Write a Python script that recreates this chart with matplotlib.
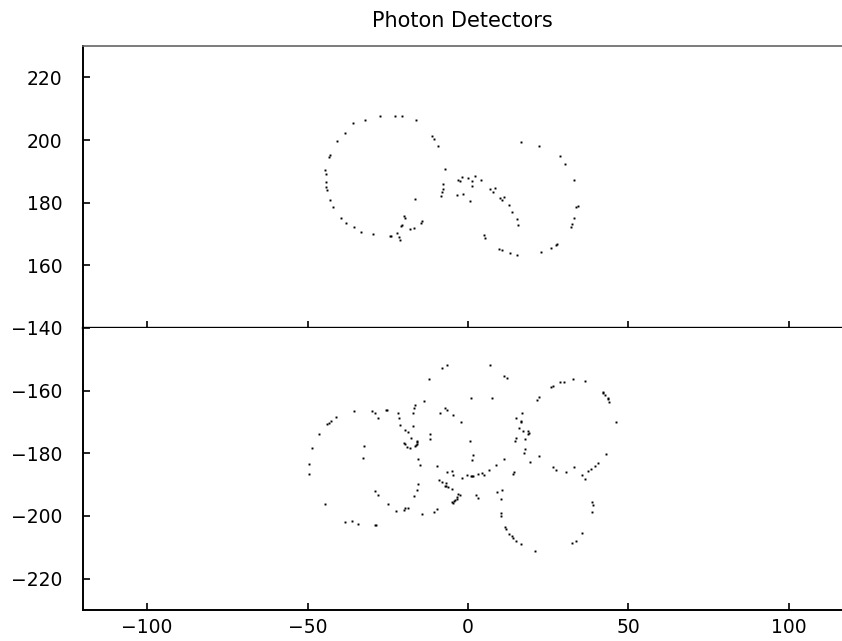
import matplotlib
matplotlib.use("Agg")
import matplotlib.pyplot as plt

# upper detector hits (x, y)
top_x = [
    -27.4, -22.9, -20.5, -16.2, -32.1, -35.8, -38.3, -40.8, -42.9, -43.3,
    -11.1, -10.5, -9.4, -44.6, -44.3, -44.4, -44.2, -43.9, -43.1, -42.1,
    -7.3, -7.8, -7.7, -8.0, -8.3, -16.4, -39.6, -37.9, -35.4, -33.5,
    -29.6, -19.9, -19.6, -20.7, -20.8, -14.4, -14.7, -16.8, -18.0, -22.0,
    -24.4, -23.9, -21.5, -21.3, -1.9, -3.1, -2.4, 0.0, 2.2, 1.3,
    1.2, -1.6, -3.4, 0.6, 16.4, 22.0, 28.6, 30.2, 33.0, 34.3,
    33.8, 33.2, 32.5, 32.1, 27.7, 27.4, 25.8, 22.9, 15.4, 13.0,
    10.6, 9.7, 5.3, 5.0, 15.5, 15.2, 13.8, 12.8, 11.2, 10.7,
    10.0, 8.4, 7.9, 6.8, 4.0,
]
top_y = [
    207.8, 207.6, 207.8, 206.4, 206.3, 205.4, 202.3, 199.6, 195.3, 194.7,
    201.2, 200.4, 198.0, 190.4, 189.1, 186.6, 185.0, 184.0, 180.8, 178.7,
    190.7, 185.9, 184.3, 183.5, 182.2, 181.2, 175.0, 173.5, 172.1, 170.7,
    170.0, 175.8, 175.1, 173.0, 172.5, 174.0, 173.5, 172.0, 171.6, 170.2,
    169.4, 169.4, 168.9, 168.1, 188.2, 187.3, 187.0, 187.9, 188.6, 187.0,
    185.3, 182.8, 182.5, 180.6, 199.3, 198.1, 195.0, 192.4, 187.3, 179.0,
    178.5, 175.0, 173.3, 172.3, 166.9, 166.5, 165.5, 164.2, 163.2, 164.0,
    165.0, 165.3, 168.8, 169.7, 173.0, 174.8, 177.1, 179.2, 181.8, 180.9,
    181.5, 184.8, 183.4, 184.4, 187.1,
]

# lower detector hits (x, y)
bot_x = [
    -6.4, -8.0, -12.1, -13.6, 0.8, -35.4, -29.8, -28.9, -28.1, -25.5,
    -25.1, -21.7, -21.5, -16.4, -16.8, -17.0, -7.1, -6.6, -8.8, -4.6,
    -2.2, -41.0, -42.6, -43.4, -43.8, -46.4, -48.6, -21.2, -19.5, -18.8,
    -17.2, -17.7, -19.9, -19.6, -18.9, -18.0, -16.4, -16.2, -15.9, -15.8,
    -15.9, -11.7, -11.9, 0.6, -32.5, -32.6, -15.6,
    -49.5, -49.5, -15.0, -9.8, -6.6, -4.9, -4.7, -1.8, -0.3, -9.1,
    -8.1, -6.9, -7.3, -7.0, -6.3, -5.1, -15.6, -15.9, -16.7, -29.1,
    -28.1, -24.8, -22.5, -20.0, -19.7, -18.8, -14.2, -10.5, -9.7, -3.1,
    -2.6, -3.5, -3.9, -3.4, -4.4, -5.0, -4.7, -44.6, -38.3, -36.3,
    -34.3, -29.1, -28.7,
    6.9, 11.2, 12.1, 25.8, 26.4, 28.7, 30.0, 32.8, 36.5, 42.0,
    42.1, 42.7, 43.6, 43.7, 44.1, 46.1, 7.4, 22.1, 21.6, 16.7,
    15.0, 16.6, 16.4, 15.9, 17.1, 18.7, 19.0, 18.7, 17.7, 14.9,
    14.7, 17.8, 17.5, 22.1, 1.5, 42.9, 11.2, 1.3,
    19.4, 8.6, 6.6, 4.3, 5.0, 3.1, 1.7, 1.3, 0.8, 14.2,
    14.0, 26.5, 27.4, 30.7, 33.0, 35.7, 36.5, 37.5, 38.3, 39.5,
    40.5, 9.0, 10.7, 10.2, 2.6, 3.2, 38.7, 38.9, 38.8, 10.3,
    10.3, 11.6, 12.0, 12.9, 13.8, 14.0, 15.0, 16.6, 20.8, 35.6,
    33.7, 32.4,
]
bot_y = [
    -151.9, -152.9, -156.3, -163.2, -162.2, -166.5, -166.5, -167.2, -168.6, -166.3,
    -166.2, -167.2, -168.7, -164.6, -165.4, -167.1, -165.5, -166.1, -167.1, -167.8,
    -169.9, -168.4, -169.7, -170.3, -170.6, -173.8, -178.4, -171.1, -172.6, -173.2,
    -171.3, -175.0, -176.7, -177.0, -178.1, -178.2, -177.8, -177.4, -176.0, -176.5,
    -177.0, -173.7, -175.5, -176.2, -177.7, -181.4, -181.9,
    -183.5, -186.6, -183.6, -184.0, -185.9, -185.5, -187.0, -188.0, -186.9, -188.5,
    -189.2, -189.5, -190.3, -190.5, -190.8, -191.4, -189.8, -191.6, -193.5, -192.1,
    -193.3, -196.2, -198.4, -198.0, -197.4, -197.4, -199.5, -198.6, -197.9, -193.1,
    -193.4, -194.0, -194.8, -194.7, -195.1, -195.6, -195.8, -196.1, -201.8, -201.6,
    -202.6, -202.8, -202.9,
    -151.8, -155.2, -156.0, -158.8, -158.4, -157.3, -157.3, -156.4, -156.8, -160.4,
    -160.8, -161.5, -162.4, -162.8, -163.6, -169.9, -162.2, -162.0, -163.0, -167.1,
    -168.6, -169.8, -170.1, -171.9, -172.8, -172.9, -173.4, -173.9, -175.3, -175.2,
    -176.1, -178.5, -179.8, -180.9, -180.4, -180.2, -181.7, -182.1,
    -182.8, -183.7, -185.4, -186.2, -186.8, -186.6, -187.1, -187.2, -187.2, -186.1,
    -186.6, -184.4, -185.2, -185.9, -184.4, -187.0, -188.2, -185.6, -184.9, -184.0,
    -183.2, -192.2, -191.8, -194.5, -193.2, -194.2, -195.4, -196.4, -198.6, -199.0,
    -200.0, -203.6, -204.1, -205.7, -206.3, -206.9, -208.0, -208.8, -211.1, -205.3,
    -207.9, -208.7,
]

top_ticks = [160, 180, 200, 220]
bot_ticks = [-140, -160, -180, -200, -220]
x_ticks = [-100, -50, 0, 50, 100]

fig = plt.figure(figsize=(8.42, 6.41), dpi=100)
left, right = 0.0986, 1.0
ax_top = fig.add_axes([left, 0.4883, right - left, 0.4399])
ax_bot = fig.add_axes([left, 0.0484, right - left, 0.4399], sharex=ax_top)

for ax in (ax_top, ax_bot):
    ax.spines["right"].set_visible(False)
    for s in ("left", "bottom", "top"):
        ax.spines[s].set_linewidth(1.4)
        ax.spines[s].set_color("black")
    ax.tick_params(direction="in", length=5, width=1.2, labelsize=13.5,
                   top=False, right=False, colors="black")
    ax.tick_params(axis="y", pad=15)
    ax.tick_params(axis="x", pad=6)

ax_top.plot(top_x, top_y, "s", color="black", ms=1.4, mew=0)
ax_bot.plot(bot_x, bot_y, "s", color="black", ms=1.4, mew=0)

ax_top.set_xlim(-120, 116.6)
ax_top.set_ylim(140, 230)
ax_bot.set_ylim(-230, -140)
ax_top.set_yticks(top_ticks)
ax_bot.set_yticks(bot_ticks)
ax_bot.set_xticks(x_ticks)
ax_top.tick_params(axis="x", labelbottom=False)
ax_bot.spines["top"].set_visible(False)
ax_top.spines["bottom"].set_linewidth(1.7)
ax_top.spines["top"].set_linewidth(1.2)
ax_top.spines["top"].set_color("#666666")

ax_top.set_title("Photon Detectors", fontsize=15, pad=14)

fig.savefig("out.png", dpi=100)
